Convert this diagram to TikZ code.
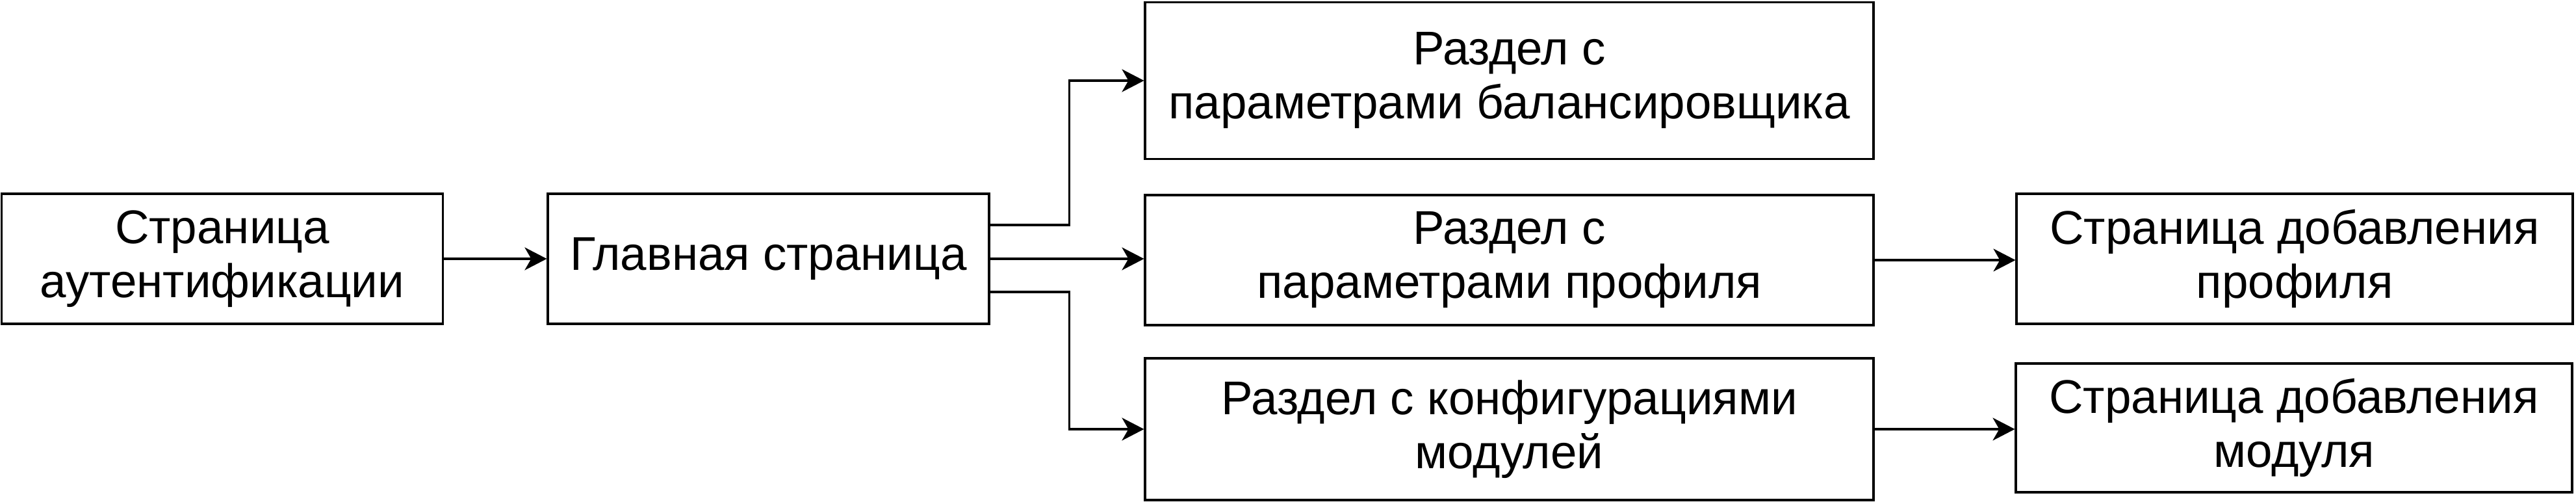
\documentclass[tikz,border=0pt]{standalone}
\usepackage{fontspec}
\setmainfont{Liberation Sans}
\usetikzlibrary{arrows.meta}

\begin{document}
\begin{tikzpicture}[every node/.style={font=\fontsize{20.7}{23.6}\selectfont, align=center, inner sep=0pt},
  box/.style={draw, line width=0.9pt, minimum height=2cm},
  arr/.style={line width=0.9pt, -{Stealth[length=0.34cm, width=0.35cm, inset=0.1cm]}}]
\useasboundingbox (0,0) rectangle (39.64,7.72);
\node[box, minimum width=6.79cm] (Auth) at (3.42,3.74) {Страница\\аутентификации};
\node[box, minimum width=6.79cm] (Main) at (11.825,3.74) {Главная страница};
\node[box, minimum width=11.21cm, minimum height=2.41cm] (Bal) at (23.225,6.48) {Раздел с\\параметрами балансировщика};
\node[box, minimum width=11.21cm] (Prof) at (23.225,3.72) {Раздел с\\параметрами профиля};
\node[box, minimum width=11.21cm, minimum height=2.18cm] (Conf) at (23.225,1.12) {Раздел с конфигурациями\\модулей};
\node[box, minimum width=8.56cm] (AddP) at (35.31,3.74) {Страница добавления\\профиля};
\node[box, minimum width=8.56cm, minimum height=1.98cm] (AddM) at (35.30,1.14) {Страница добавления\\модуля};
\draw[arr] (Auth) -- (Main);
\draw[arr] ([yshift=0.52cm]Main.east) -- ++(1.22,0) |- (Bal.west);
\draw[arr] (Main.east) -- (Main.east -| Prof.west);
\draw[arr] ([yshift=-0.51cm]Main.east) -- ++(1.22,0) |- (Conf.west);
\draw[arr] (Prof.east) -- (Prof.east -| AddP.west);
\draw[arr] (Conf.east) -- (Conf.east -| AddM.west);
\end{tikzpicture}
\end{document}
